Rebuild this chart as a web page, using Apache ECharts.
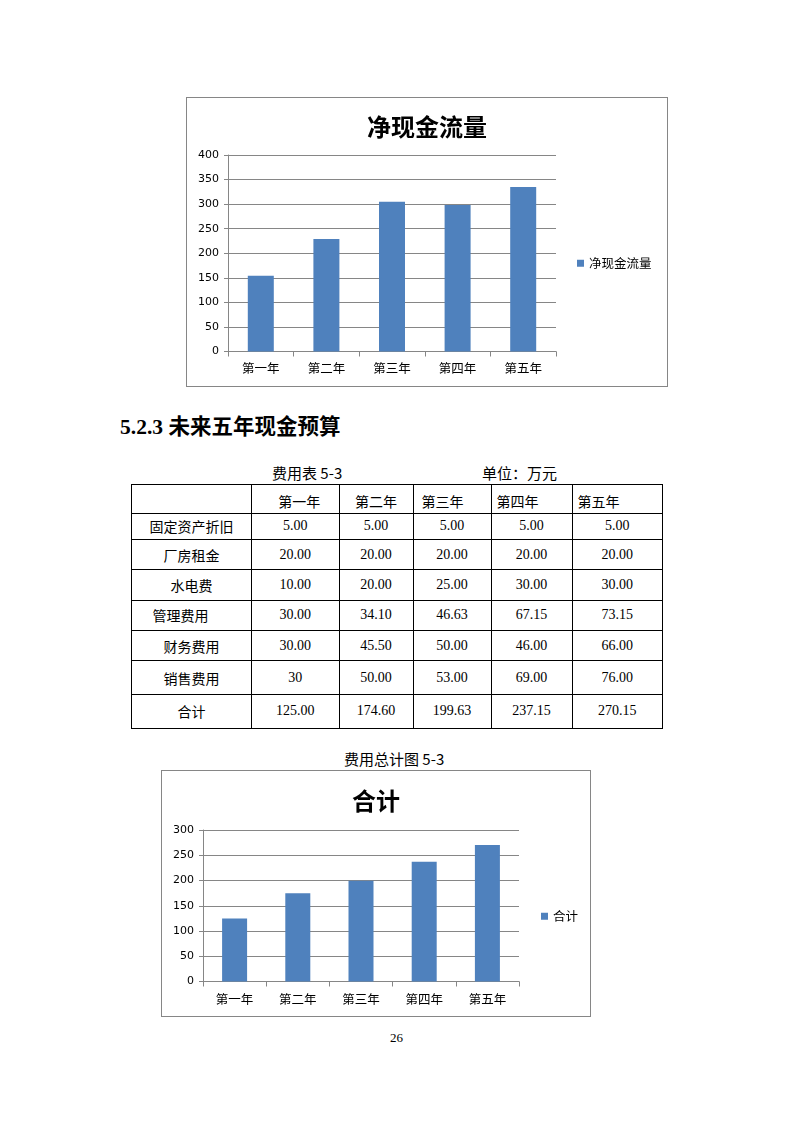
<!DOCTYPE html>
<html>
<head>
<meta charset="utf-8">
<script src="https://cdn.jsdelivr.net/npm/echarts@6/dist/echarts.min.js"></script>
<style>
  html, body { margin:0; padding:0; background:#fff; }
  body { width:794px; height:1123px; position:relative; overflow:hidden; }
  .abs { position:absolute; white-space:nowrap; }
  .box { position:absolute; border:1px solid #868686; box-sizing:border-box; background:#fff; }
  .cap { font-family:"Noto Sans CJK SC", sans-serif; font-size:15px; color:#000; line-height:1; }
  table.t { position:absolute; left:131px; top:484px; border-collapse:collapse; table-layout:fixed; }
  table.t td { border:1.3px solid #000; padding:0; text-align:center; vertical-align:middle;
    font-family:"Liberation Serif", "Times New Roman", serif; font-size:14px; color:#000; line-height:1; }
  table.t td.lab, table.t td.hd { font-family:"Noto Sans CJK SC", sans-serif; }
</style>
</head>
<body>
<div id="c1" class="box" style="left:186px; top:97px; width:482px; height:290px;"></div>

<div class="abs" style="left:120px; top:414px; font-size:21.5px; font-weight:bold; line-height:1; font-family:'Liberation Serif','Noto Sans CJK SC',serif;">5.2.3 <span style="font-family:'Noto Sans CJK SC',sans-serif;">未来五年现金预算</span></div>

<div class="abs cap" style="left:272px; top:465px;">费用表 5-3</div>
<div class="abs cap" style="left:482px; top:465px;">单位：万元</div>

<table class="t" id="tbl"></table>

<div class="abs cap" style="left:344px; top:751px;">费用总计图 5-3</div>
<div id="c2" class="box" style="left:161px; top:770px; width:430px; height:247px;"></div>

<div class="abs" style="left:390px; top:1030px; font-family:'Liberation Serif',serif; font-size:13px; color:#000;">26</div>

<script>
// ---- data ----
var categories = ['第一年', '第二年', '第三年', '第四年', '第五年'];
var netCashFlow = [154, 229, 305, 298, 335];
var netCashName = '净现金流量';
var totals = [125.00, 174.60, 199.63, 237.15, 270.15];
var totalName = '合计';

var rowLabels = ['固定资产折旧', '厂房租金', '水电费', '管理费用', '财务费用', '销售费用', '合计'];
var rowDepreciation = ['5.00', '5.00', '5.00', '5.00', '5.00'];
var rowRent = ['20.00', '20.00', '20.00', '20.00', '20.00'];
var rowUtilities = ['10.00', '20.00', '25.00', '30.00', '30.00'];
var rowManagement = ['30.00', '34.10', '46.63', '67.15', '73.15'];
var rowFinance = ['30.00', '45.50', '50.00', '46.00', '66.00'];
var rowSales = ['30', '50.00', '53.00', '69.00', '76.00'];
var rowTotal = ['125.00', '174.60', '199.63', '237.15', '270.15'];

// ---- table ----
var colW = [120, 87.5, 74, 78, 81, 90.5];
var rowH = [28.5, 26.5, 30, 30.5, 30.5, 30, 34, 33.5];
var hdAlign = [null, 'padding-left:8px;', '', 'text-align:left;padding-left:8px;', 'text-align:left;padding-left:5px;', 'text-align:left;padding-left:5px;'];
var labStyle = ['', '', '', 'padding-right:22px;', '', '', ''];
var rows = [rowDepreciation, rowRent, rowUtilities, rowManagement, rowFinance, rowSales, rowTotal];
var html = '<colgroup>' + colW.map(function(w){return '<col style="width:'+w+'px">';}).join('') + '</colgroup>';
html += '<tr style="height:'+rowH[0]+'px"><td></td>' + categories.map(function(c,i){
  return '<td class="hd" style="'+hdAlign[i+1]+'padding-top:5px;">'+c+'</td>';}).join('') + '</tr>';
rows.forEach(function(r, ri){
  html += '<tr style="height:'+rowH[ri+1]+'px"><td class="lab" style="'+labStyle[ri]+'">'+rowLabels[ri]+'</td>' +
    r.map(function(v){ return '<td>'+v+'</td>'; }).join('') + '</tr>';
});
var tbl = document.getElementById('tbl');
tbl.innerHTML = html;
tbl.style.width = colW.reduce(function(a,b){return a+b;},0) + 'px';

// ---- charts ----
var barColor = '#4F81BD';
var gridColor = '#868686';
function makeOption(title, name, values, max, grid, legendPos, barW, titleTop, xMargin) {
  return {
    animation: false,
    title: { text: title, left: 'center', top: titleTop,
      textStyle: { fontSize: 24, fontWeight: 'bold', color: '#000', fontFamily: 'Noto Sans CJK SC' } },
    legend: { data: [name], orient: 'vertical', left: legendPos[0], top: legendPos[1],
      icon: 'rect', itemWidth: 7, itemHeight: 7,
      textStyle: { fontSize: 12.5, color: '#000', fontFamily: 'Noto Sans CJK SC' } },
    grid: grid,
    xAxis: { type: 'category', data: categories,
      axisLine: { lineStyle: { color: gridColor, width: 1 } },
      axisTick: { show: true, length: 5, alignWithLabel: false, lineStyle: { color: gridColor } },
      axisLabel: { color: '#000', fontSize: 12.5, margin: xMargin, fontFamily: 'Noto Sans CJK SC' } },
    yAxis: { type: 'value', min: 0, max: max, interval: 50,
      axisLine: { show: true, lineStyle: { color: gridColor, width: 1 } },
      axisTick: { show: true, length: 4, lineStyle: { color: gridColor } },
      splitLine: { lineStyle: { color: gridColor, width: 1 } },
      axisLabel: { color: '#000', fontSize: 11, margin: 9, fontFamily: 'DejaVu Sans' } },
    series: [{ name: name, type: 'bar', data: values, barWidth: barW,
      itemStyle: { color: barColor } }]
  };
}
var c1 = echarts.init(document.getElementById('c1'), null, { renderer: 'canvas' });
c1.setOption(makeOption('净现金流量', netCashName, netCashFlow, 400,
  { left: 41, right: 111, top: 57, bottom: 34.5, containLabel: false },
  [385, 154], 26, 12, 10));
var c2 = echarts.init(document.getElementById('c2'), null, { renderer: 'canvas' });
c2.setOption(makeOption('合计', totalName, totals, 300,
  { left: 41, right: 71, top: 59, bottom: 34.5, containLabel: false },
  [374, 134], 25, 13, 11));
</script>
</body>
</html>
